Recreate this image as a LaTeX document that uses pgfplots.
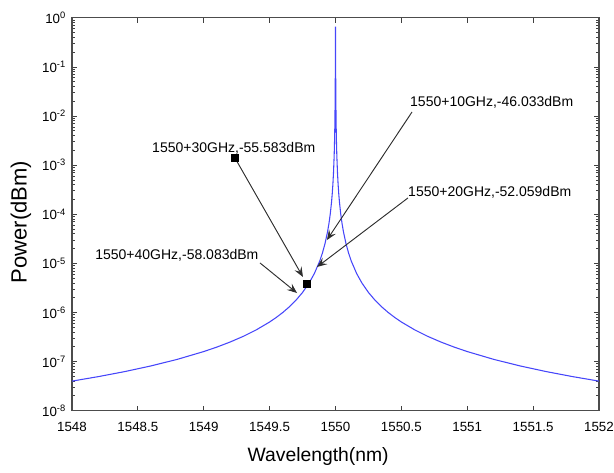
\documentclass[border=0pt]{standalone}
\usepackage{fontspec}
\setmainfont{Liberation Sans}
\usepackage{pgfplots}
\pgfplotsset{compat=1.18}
\usetikzlibrary{arrows.meta}

\definecolor{curveblue}{RGB}{70,70,250}
\definecolor{arrowgray}{RGB}{45,45,45}

% x is stored as offset from 1550 nm, labels give the wavelength
\pgfplotstableread{
x y
-2.0 4.0e-8
-1.8 4.938e-8
-1.6 6.25e-8
-1.4 8.163e-8
-1.2 1.111e-7
-1.0 1.6e-7
-0.9 1.975e-7
-0.8 2.5e-7
-0.7 3.265e-7
-0.6 4.444e-7
-0.5 6.4e-7
-0.45 7.901e-7
-0.4 1.0e-6
-0.35 1.306e-6
-0.3 1.778e-6
-0.25 2.56e-6
-0.2 4.0e-6
-0.16 6.25e-6
-0.12 1.111e-5
-0.1 1.6e-5
-0.08 2.5e-5
-0.06 4.444e-5
-0.05 6.4e-5
-0.04 1.0e-4
-0.03 1.778e-4
-0.025 2.56e-4
-0.02 4.0e-4
-0.015 7.11e-4
-0.01 1.596e-3
-0.007 3.25e-3
-0.005 6.34e-3
-0.003 1.73e-2
-0.002 3.77e-2
-0.001 0.129
0.0 0.66
0.001 0.129
0.002 3.77e-2
0.003 1.73e-2
0.005 6.34e-3
0.007 3.25e-3
0.01 1.596e-3
0.015 7.11e-4
0.02 4.0e-4
0.025 2.56e-4
0.03 1.778e-4
0.04 1.0e-4
0.05 6.4e-5
0.06 4.444e-5
0.08 2.5e-5
0.1 1.6e-5
0.12 1.111e-5
0.16 6.25e-6
0.2 4.0e-6
0.25 2.56e-6
0.3 1.778e-6
0.35 1.306e-6
0.4 1.0e-6
0.45 7.901e-7
0.5 6.4e-7
0.6 4.444e-7
0.7 3.265e-7
0.8 2.5e-7
0.9 1.975e-7
1.0 1.6e-7
1.2 1.111e-7
1.4 8.163e-8
1.6 6.25e-8
1.8 4.938e-8
2.0 4.0e-8
}\spectrum

\begin{document}
\begin{tikzpicture}[x=1pt,y=1pt]
\path[use as bounding box] (-54,-46) rectangle (406.5,308);
\begin{axis}[
    at={(0,0)}, anchor=south west,
    width=395.25pt, height=294.6pt, scale only axis,
    xmin=-2, xmax=2,
    ymode=log, ymin=1e-8, ymax=1,
    xtick={-2,-1.5,-1,-0.5,0,0.5,1,1.5,2},
    xticklabels={1548,1548.5,1549,1549.5,1550,1550.5,1551,1551.5,1552},
    ytick={1e-8,1e-7,1e-6,1e-5,1e-4,1e-3,1e-2,1e-1,1},
    yticklabels={10\textsuperscript{-8},10\textsuperscript{-7},10\textsuperscript{-6},10\textsuperscript{-5},10\textsuperscript{-4},10\textsuperscript{-3},10\textsuperscript{-2},10\textsuperscript{-1},10\textsuperscript{0}},
    tick align=inside,
    major tick length=3.75pt,
    minor tick length=2.2pt,
    tick style={draw=black!75, line width=0.6pt},
    axis line style={draw=black!70, line width=0.9pt},
    ticklabel style={font=\fontsize{10}{11}\selectfont},
    xticklabel style={yshift=-5pt},
    yticklabel style={xshift=-1pt},
    xlabel={Wavelength(nm)},
    ylabel={Power(dBm)},
    xlabel style={font=\fontsize{14.5}{16}\selectfont, at={(axis description cs:0.467,-0.117)}, anchor=center},
    ylabel style={font=\fontsize{16.5}{18}\selectfont, at={(axis description cs:-0.097,0.48)}, anchor=center},
  ]
  \addplot[color=curveblue, line width=0.8pt] table[x=x, y=y] {\spectrum};

  % markers of the data tips
  \addplot[only marks, mark=square*, mark size=2.6pt, color=black] coordinates {(-0.763,1.40e-3) (-0.216,3.80e-6)};

  \begin{scope}[arrowgray, line width=0.7pt, -{Stealth[length=7.5pt,width=6pt,inset=3pt]}]
    \draw (axis cs:0.581,1.213e-2) -- (axis cs:-0.065,2.99e-5);
    \draw (axis cs:0.550,2.15e-4) -- (axis cs:-0.140,8.45e-6);
    \draw (axis cs:-0.763,1.40e-3) -- (axis cs:-0.247,5.28e-6);
    \draw (axis cs:-0.573,1.02e-5) -- (axis cs:-0.292,2.49e-6);
  \end{scope}

  \begin{scope}[every node/.style={anchor=west, inner sep=0pt, font=\fontsize{10.5}{12}\selectfont}]
    \node at (axis cs:0.565,1.94e-2) {1550+10GHz,-46.033dBm};
    \node at (axis cs:0.550,2.84e-4) {1550+20GHz,-52.059dBm};
    \node at (axis cs:-1.393,2.24e-3) {1550+30GHz,-55.583dBm};
    \node at (axis cs:-1.825,1.48e-5) {1550+40GHz,-58.083dBm};
  \end{scope}
\end{axis}
\end{tikzpicture}
\end{document}
